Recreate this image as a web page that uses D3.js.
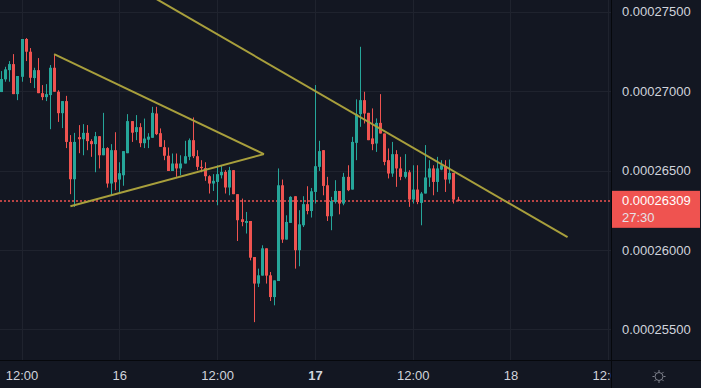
<!DOCTYPE html>
<html>
<head>
<meta charset="utf-8">
<script src="https://cdn.jsdelivr.net/npm/d3@7"></script>
<style>
  html, body { margin: 0; padding: 0; background: #131722; }
  svg { display: block; }
  text { font-family: "Liberation Sans", Arial, sans-serif; }
</style>
</head>
<body>
<svg width="701" height="388"></svg>
<script>
// prices are stored in units of 0.00000001
const UNIT = 1e-8;
const candleStart = new Date(2021, 5, 15, 9, 30);
const candleMinutes = 30;

const open = [
  26994, 27074, 27132, 27170, 26981, 27090, 27328, 27248, 27082, 27132,
  26987, 26962, 26975, 27147, 26996, 26861, 26937, 26680, 26445, 26710,
  26697, 26737, 26685, 26666, 26716, 26596, 26641, 26418, 26628, 26443,
  26470, 26609, 26811, 26742, 26773, 26672, 26694, 26706, 26859, 26735,
  26647, 26593, 26497, 26544, 26513, 26544, 26586, 26691, 26590, 26523,
  26515, 26464, 26418, 26428, 26470, 26491, 26393, 26502, 26351, 26193,
  26170, 26182, 25955, 25788, 25838, 26010, 25840, 25703, 25804, 26407,
  26065, 26170, 26338, 25998, 26155, 26288, 26245, 26365, 26523, 26628,
  26407, 26212, 26302, 26371, 26292, 26460, 26380, 26674, 26855, 26943,
  26863, 26702, 26670, 26800, 26733, 26565, 26481, 26603, 26513, 26460,
  26489, 26317, 26380, 26296, 26355, 26456, 26513, 26428, 26506, 26527,
  26443, 26485, 26317
];
const high = [
  27126, 27153, 27189, 27233, 27095, 27328, 27334, 27271, 27147, 27208,
  27038, 27044, 27164, 27231, 27006, 26937, 26970, 26723, 26737, 26786,
  26792, 26786, 26697, 26743, 26716, 26863, 26647, 26666, 26741, 26552,
  26622, 26855, 26811, 26849, 26798, 26827, 26735, 26901, 26901, 26765,
  26691, 26645, 26607, 26607, 26596, 26687, 26702, 26834, 26628, 26565,
  26552, 26470, 26477, 26533, 26533, 26502, 26523, 26502, 26351, 26323,
  26239, 26182, 25955, 25882, 26029, 26010, 25861, 25808, 26513, 26443,
  26218, 26338, 26338, 26250, 26338, 26401, 26390, 27038, 26687, 26628,
  26460, 26334, 26439, 26371, 26485, 26533, 26712, 26948, 27279, 26996,
  26863, 26891, 26828, 26981, 26733, 26639, 26680, 26628, 26586, 26603,
  26502, 26533, 26533, 26365, 26660, 26565, 26533, 26586, 26565, 26565,
  26569, 26485, 26334
];
const low = [
  26994, 27059, 27059, 26981, 26943, 27059, 27189, 27051, 27019, 26987,
  26943, 26937, 26760, 26996, 26806, 26767, 26641, 26351, 26271, 26609,
  26596, 26628, 26586, 26489, 26513, 26596, 26392, 26341, 26376, 26360,
  26404, 26609, 26680, 26691, 26647, 26641, 26641, 26706, 26723, 26649,
  26565, 26497, 26497, 26460, 26470, 26544, 26565, 26578, 26502, 26489,
  26435, 26355, 26371, 26281, 26450, 26355, 26344, 26351, 26056, 26149,
  26103, 25934, 25545, 25766, 25838, 25788, 25678, 25651, 25804, 26044,
  26065, 26170, 25882, 25897, 26144, 26224, 26204, 26292, 26497, 26344,
  26182, 26124, 26292, 26224, 26281, 26370, 26380, 26565, 26775, 26796,
  26691, 26628, 26617, 26733, 26533, 26450, 26460, 26397, 26439, 26450,
  26271, 26292, 26288, 26155, 26355, 26397, 26344, 26365, 26502, 26365,
  26418, 26292, 26305
];
const close = [
  27076, 27137, 27170, 26981, 27095, 27328, 27248, 27084, 27132, 26987,
  26962, 26981, 27147, 26996, 26861, 26937, 26680, 26445, 26680, 26697,
  26737, 26685, 26666, 26716, 26596, 26641, 26418, 26628, 26426, 26483,
  26622, 26811, 26738, 26773, 26672, 26701, 26713, 26863, 26729, 26649,
  26593, 26497, 26544, 26513, 26544, 26590, 26691, 26590, 26523, 26515,
  26464, 26418, 26435, 26477, 26491, 26393, 26502, 26351, 26187, 26176,
  26182, 25951, 25788, 25840, 26010, 25838, 25703, 25808, 26407, 26065,
  26176, 26334, 25998, 26161, 26288, 26245, 26369, 26527, 26622, 26403,
  26212, 26308, 26371, 26292, 26460, 26376, 26680, 26855, 26943, 26859,
  26691, 26666, 26800, 26733, 26554, 26481, 26603, 26513, 26460, 26491,
  26317, 26380, 26302, 26355, 26456, 26513, 26428, 26513, 26533, 26443,
  26485, 26317, 26309
];

const priceTicks = [25500, 26000, 26500, 27000, 27500];
const timeTicks = [
  new Date(2021, 5, 15, 12), new Date(2021, 5, 16, 0), new Date(2021, 5, 16, 12),
  new Date(2021, 5, 17, 0), new Date(2021, 5, 17, 12), new Date(2021, 5, 18, 0),
  new Date(2021, 5, 18, 12)
];
const timeTickLabels = ['12:00', '16', '12:00', '17', '12:00', '18', '12:00'];
const lastPrice = 26309;
const countdown = '27:30';

// drawn lines, as [candle index, price]
const bigTrend = [[35, 27626], [139, 26080]];
const triUpper = [[13, 27233], [64.5, 26603]];
const triLower = [[17, 26275], [64.5, 26603]];

const width = 701;
const height = 388;
const plotRight = 611;
const plotBottom = 360;

const upColor = '#26a69a';
const downColor = '#ef5350';
const gridColor = '#1f232e';
const textColor = '#d1d4dc';

const timeOf = i => new Date(candleStart.getTime() + i * candleMinutes * 60000);

const candles = open.map((o, i) => ({
  t: timeOf(i), o: o * UNIT, h: high[i] * UNIT, l: low[i] * UNIT, c: close[i] * UNIT
}));

const svg = d3.select('svg');

const x = d3.scaleTime()
  .domain([new Date(2021, 5, 15, 12), new Date(2021, 5, 18, 12)])
  .range([21.5, 608.3]);

const y = d3.scaleLinear()
  .domain([25500 * UNIT, 27500 * UNIT])
  .range([329.3, 11.7]);

svg.append('rect').attr('width', width).attr('height', height).attr('fill', '#131722');

svg.append('clipPath').attr('id', 'plot')
  .append('rect').attr('width', plotRight).attr('height', plotBottom);

// grid
const grid = svg.append('g').attr('clip-path', 'url(#plot)');
grid.selectAll('.vg').data(timeTicks).join('line')
  .attr('x1', d => Math.round(x(d)) + 0.5).attr('x2', d => Math.round(x(d)) + 0.5)
  .attr('y1', 0).attr('y2', plotBottom)
  .attr('stroke', gridColor);
grid.selectAll('.hg').data(priceTicks).join('line')
  .attr('y1', d => Math.round(y(d * UNIT)) + 0.5).attr('y2', d => Math.round(y(d * UNIT)) + 0.5)
  .attr('x1', 0).attr('x2', plotRight)
  .attr('stroke', gridColor);

const plot = svg.append('g').attr('clip-path', 'url(#plot)');

// current price line
plot.append('line')
  .attr('x1', 0).attr('x2', plotRight)
  .attr('y1', Math.round(y(lastPrice * UNIT))).attr('y2', Math.round(y(lastPrice * UNIT)))
  .attr('stroke', downColor).attr('stroke-width', 1.6)
  .attr('stroke-dasharray', '2,2');

// candles
const cg = plot.selectAll('.candle').data(candles).join('g');
cg.append('line')
  .attr('x1', d => Math.round(x(d.t)) + 0.5).attr('x2', d => Math.round(x(d.t)) + 0.5)
  .attr('y1', d => y(d.h)).attr('y2', d => y(d.l))
  .attr('stroke', d => d.c >= d.o ? upColor : downColor);
cg.append('rect')
  .attr('x', d => Math.round(x(d.t)) - 1)
  .attr('width', 3)
  .attr('y', d => y(Math.max(d.o, d.c)))
  .attr('height', d => Math.max(1, Math.abs(y(d.o) - y(d.c))))
  .attr('fill', d => d.c >= d.o ? upColor : downColor);

// trend lines
const line = d3.line()
  .x(d => x(timeOf(d[0])))
  .y(d => y(d[1] * UNIT));
[bigTrend, triUpper, triLower].forEach(pts => {
  plot.append('path')
    .datum(pts)
    .attr('fill', 'none')
    .attr('stroke', '#a89f3c')
    .attr('stroke-width', 2)
    .attr('d', line);
});

// time axis
const xAxis = svg.append('g')
  .attr('transform', `translate(0, ${plotBottom})`)
  .call(d3.axisBottom(x).tickValues(timeTicks).tickFormat((d, i) => timeTickLabels[i]).tickSize(0).tickPadding(11));
xAxis.select('.domain').remove();
xAxis.selectAll('text')
  .attr('fill', textColor)
  .attr('font-size', 13)
  .attr('font-family', '"Liberation Sans", Arial, sans-serif')
  .attr('font-weight', (d, i) => timeTickLabels[i] === '17' ? 'bold' : 'normal');

// price axis
svg.append('rect')
  .attr('x', plotRight).attr('y', 0)
  .attr('width', width - plotRight).attr('height', height)
  .attr('fill', '#131722');

const yAxis = svg.append('g')
  .attr('transform', `translate(${plotRight}, 0)`)
  .call(d3.axisRight(y).tickValues(priceTicks.map(p => p * UNIT)).tickFormat(d3.format('.8f')).tickSize(0).tickPadding(11));
yAxis.select('.domain').remove();
yAxis.selectAll('text')
  .attr('fill', textColor)
  .attr('font-size', 13)
  .attr('font-family', '"Liberation Sans", Arial, sans-serif');

// scale borders
svg.append('line')
  .attr('x1', plotRight + 0.5).attr('x2', plotRight + 0.5)
  .attr('y1', 0).attr('y2', height)
  .attr('stroke', '#06080c');
svg.append('line')
  .attr('x1', 0).attr('x2', width)
  .attr('y1', plotBottom + 0.5).attr('y2', plotBottom + 0.5)
  .attr('stroke', '#06080c');

// last price tag
const tagY = y(lastPrice * UNIT);
svg.append('rect')
  .attr('x', plotRight + 1).attr('y', tagY - 10)
  .attr('width', 88).attr('height', 37)
  .attr('fill', downColor);
svg.append('text')
  .attr('x', plotRight + 11).attr('y', tagY + 4.5)
  .attr('fill', '#ffffff').attr('font-size', 13)
  .text(d3.format('.8f')(lastPrice * UNIT));
svg.append('text')
  .attr('x', plotRight + 11).attr('y', tagY + 21.5)
  .attr('fill', '#e6e1e6').attr('font-size', 13)
  .text(countdown);

// settings icon
const gear = svg.append('g')
  .attr('transform', 'translate(659, 376.5)')
  .attr('stroke', '#80838e').attr('fill', 'none');
gear.append('circle').attr('r', 4);
d3.range(8).forEach(k => {
  const a = k * Math.PI / 4;
  gear.append('line')
    .attr('x1', Math.cos(a) * 4.5).attr('y1', Math.sin(a) * 4.5)
    .attr('x2', Math.cos(a) * 6.5).attr('y2', Math.sin(a) * 6.5);
});
</script>
</body>
</html>
